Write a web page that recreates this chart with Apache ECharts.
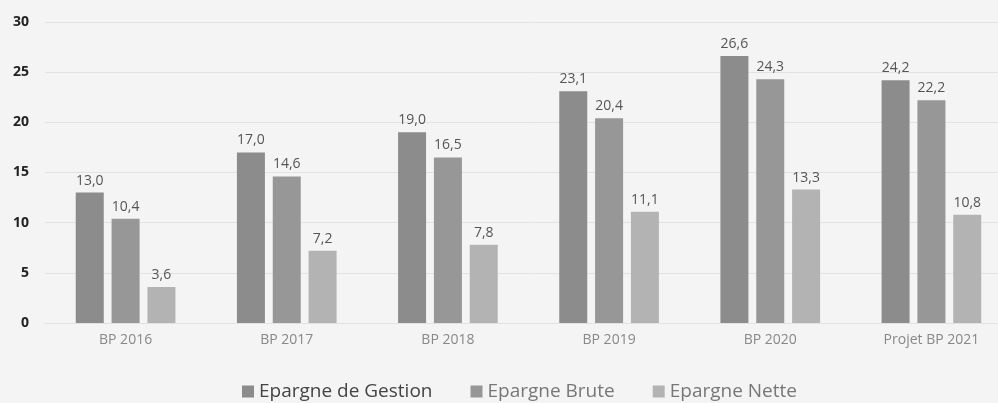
<!DOCTYPE html>
<html>
<head>
<meta charset="utf-8">
<script src="https://cdn.jsdelivr.net/npm/echarts@6/dist/echarts.min.js"></script>
<style>
  html, body { margin: 0; padding: 0; background: #f4f4f4; overflow: hidden; }
  #chart { width: 1012px; height: 403px; }
</style>
</head>
<body>
<div id="chart"></div>
<script>
const categories = ['BP 2016', 'BP 2017', 'BP 2018', 'BP 2019', 'BP 2020', 'Projet BP 2021']
const gestion = [13.0, 17.0, 19.0, 23.1, 26.6, 24.2]
const brute = [10.4, 14.6, 16.5, 20.4, 24.3, 22.2]
const nette = [3.6, 7.2, 7.8, 11.1, 13.3, 10.8]
const seriesNames = ['Epargne de Gestion', 'Epargne Brute', 'Epargne Nette']
const colors = ['#8c8c8c', '#979797', '#b3b3b3']

// the original picture is cropped on the right, so the chart is a bit wider than the window
const chart = echarts.init(document.getElementById('chart'))

function makeSeries(name, data, color) {
  return {
    name: name,
    type: 'bar',
    data: data,
    barWidth: 28,
    barGap: '28%',
    itemStyle: { color: color },
    label: {
      show: true,
      position: 'top',
      distance: 5,
      color: '#555',
      fontSize: 14,
      fontFamily: 'Open Sans',
      formatter: p => p.value.toFixed(1).replace('.', ',')
    }
  }
}

chart.setOption({
  backgroundColor: '#f4f4f4',
  animation: false,
  color: colors,
  legend: {
    data: [
      { name: seriesNames[0], textStyle: { color: '#444' } },
      { name: seriesNames[1], textStyle: { color: '#777' } },
      { name: seriesNames[2], textStyle: { color: '#777' } }
    ],
    top: 377,
    left: 237,
    itemWidth: 12,
    itemHeight: 12,
    itemGap: 38,
    icon: 'rect',
    textStyle: { fontSize: 19, fontFamily: 'Open Sans' }
  },
  grid: {
    left: 45,
    top: 22,
    right: 0,
    height: 301,
    containLabel: false
  },
  xAxis: {
    type: 'category',
    data: categories,
    axisLine: { show: true, lineStyle: { color: '#e2e2e2' } },
    axisTick: { show: false },
    axisLabel: { color: '#888', fontSize: 14, fontFamily: 'Open Sans', margin: 10 }
  },
  yAxis: {
    type: 'value',
    min: 0,
    max: 30,
    interval: 5,
    axisLine: { show: false },
    axisTick: { show: false },
    axisLabel: { color: '#222', fontSize: 14, fontWeight: 'bold', fontFamily: 'Open Sans', margin: 16 },
    splitLine: { lineStyle: { color: '#e2e2e2' } }
  },
  series: [
    makeSeries(seriesNames[0], gestion, colors[0]),
    makeSeries(seriesNames[1], brute, colors[1]),
    makeSeries(seriesNames[2], nette, colors[2])
  ]
})
</script>
</body>
</html>
